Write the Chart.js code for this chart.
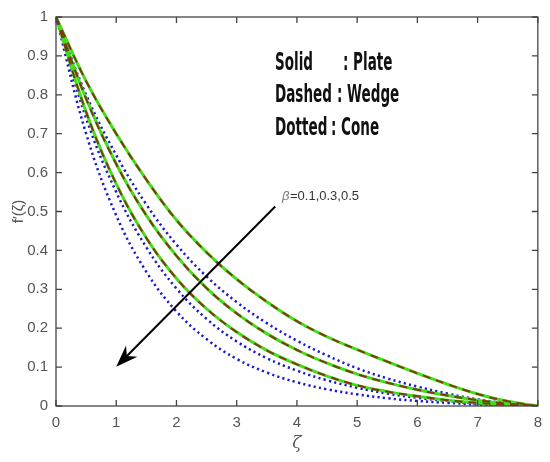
<!DOCTYPE html>
<html>
<head>
<meta charset="utf-8">
<script src="https://cdn.jsdelivr.net/npm/chart.js@4.4.0/dist/chart.umd.min.js"></script>
<style>
  html, body { margin: 0; padding: 0; background: #fff; }
  #wrap { width: 550px; height: 462px; }
</style>
</head>
<body>
<div id="wrap"><canvas id="c"></canvas></div>
<script>
// zeta values along the axis
const zeta = [0, 0.5, 1, 1.5, 2, 2.5, 3, 3.5, 4, 4.5, 5, 5.5, 6, 6.5, 7, 7.5, 8];

// f'(zeta), one array per beta
const plate01 = [1, 0.835, 0.70, 0.582, 0.478, 0.395, 0.326, 0.268, 0.218, 0.178, 0.145, 0.114, 0.084, 0.056, 0.031, 0.012, 0];
const plate03 = [1, 0.79, 0.622, 0.49, 0.386, 0.303, 0.238, 0.186, 0.144, 0.11, 0.082, 0.06, 0.042, 0.027, 0.015, 0.006, 0];
const plate05 = [1, 0.756, 0.571, 0.432, 0.328, 0.25, 0.19, 0.143, 0.107, 0.077, 0.053, 0.037, 0.025, 0.015, 0.008, 0.003, 0];
// wedge curves sit on top of the plate ones
const wedge01 = plate01.slice();
const wedge03 = plate03.slice();
const wedge05 = plate05.slice();
const cone01 = [1, 0.80, 0.645, 0.518, 0.415, 0.333, 0.267, 0.213, 0.168, 0.13, 0.097, 0.071, 0.05, 0.032, 0.017, 0.007, 0];
const cone03 = [1, 0.74, 0.55, 0.408, 0.302, 0.224, 0.166, 0.123, 0.091, 0.066, 0.047, 0.032, 0.021, 0.013, 0.006, 0.002, 0];
const cone05 = [1, 0.70, 0.49, 0.345, 0.243, 0.172, 0.121, 0.086, 0.061, 0.043, 0.03, 0.02, 0.013, 0.008, 0.004, 0.001, 0];

const xTicks = [0, 1, 2, 3, 4, 5, 6, 7, 8];
const yTicks = [0, 0.1, 0.2, 0.3, 0.4, 0.5, 0.6, 0.7, 0.8, 0.9, 1];

const pts = arr => arr.map((v, i) => ({ x: zeta[i], y: v }));

const solid = arr => ({
  data: pts(arr), borderColor: '#44dd18', borderWidth: 3, order: 2
});
const dashed = arr => ({
  data: pts(arr), borderColor: '#7a3a12', borderWidth: 2, borderDash: [8, 6], order: 1
});
const dotted = arr => ({
  data: pts(arr), borderColor: '#1a1acc', borderWidth: 2.5, borderDash: [2.2, 3.2], order: 3
});

// box with inward ticks on all four sides
const frame = {
  id: 'frame',
  afterDatasetsDraw(chart) {
    const { ctx, chartArea: a, scales: { x, y } } = chart;
    ctx.save();
    ctx.strokeStyle = '#444';
    ctx.lineWidth = 1.3;
    ctx.strokeRect(a.left, a.top, a.right - a.left, a.bottom - a.top);
    ctx.beginPath();
    xTicks.forEach(v => {
      const px = x.getPixelForValue(v);
      ctx.moveTo(px, a.bottom); ctx.lineTo(px, a.bottom - 6);
      ctx.moveTo(px, a.top); ctx.lineTo(px, a.top + 6);
    });
    yTicks.forEach(v => {
      const py = y.getPixelForValue(v);
      ctx.moveTo(a.left, py); ctx.lineTo(a.left + 6, py);
      ctx.moveTo(a.right, py); ctx.lineTo(a.right - 6, py);
    });
    ctx.stroke();
    ctx.restore();
  }
};

// legend text, beta label and arrow
const notes = {
  id: 'notes',
  afterDraw(chart) {
    const { ctx, scales: { x, y } } = chart;
    ctx.save();
    ctx.fillStyle = '#111';
    ctx.font = 'bold 24px "DejaVu Sans Condensed", "DejaVu Sans", sans-serif';
    ctx.textBaseline = 'alphabetic';
    const sx = 38 / ctx.measureText('Solid').width;
    const put = (t, px, py) => {
      ctx.save();
      ctx.translate(px, py);
      ctx.scale(sx, 1);
      ctx.fillText(t, 0, 0);
      ctx.restore();
    };
    put('Solid', 275, 70);   put(': Plate', 343, 70);
    put('Dashed', 275, 102); put(': Wedge', 337, 102);
    put('Dotted', 275, 135); put(': Cone', 331, 135);

    ctx.font = 'italic 13px "Liberation Sans", Arial, sans-serif';
    ctx.fillStyle = '#777';
    ctx.fillText('β', 282, 200);
    ctx.font = '13px "Liberation Sans", Arial, sans-serif';
    ctx.fillStyle = '#333';
    ctx.fillText('=0.1,0.3,0.5', 290, 200);

    // arrow in data coordinates
    const x0 = x.getPixelForValue(3.64), y0 = y.getPixelForValue(0.513);
    const x1 = x.getPixelForValue(1.0), y1 = y.getPixelForValue(0.101);
    const len = Math.hypot(x1 - x0, y1 - y0);
    const ux = (x1 - x0) / len, uy = (y1 - y0) / len;
    const nx = -uy, ny = ux;
    ctx.strokeStyle = '#000';
    ctx.lineWidth = 2;
    ctx.beginPath();
    ctx.moveTo(x0, y0);
    ctx.lineTo(x1 - ux * 12, y1 - uy * 12);
    ctx.stroke();
    ctx.fillStyle = '#000';
    ctx.beginPath();
    ctx.moveTo(x1, y1);
    ctx.lineTo(x1 - ux * 22 + nx * 8, y1 - uy * 22 + ny * 8);
    ctx.lineTo(x1 - ux * 15, y1 - uy * 15);
    ctx.lineTo(x1 - ux * 22 - nx * 8, y1 - uy * 22 - ny * 8);
    ctx.closePath();
    ctx.fill();
    ctx.restore();
  }
};

new Chart(document.getElementById('c').getContext('2d'), {
  type: 'line',
  data: {
    datasets: [
      dashed(wedge01), dashed(wedge03), dashed(wedge05),
      solid(plate01), solid(plate03), solid(plate05),
      dotted(cone01), dotted(cone03), dotted(cone05)
    ]
  },
  options: {
    responsive: true,
    maintainAspectRatio: false,
    animation: false,
    layout: { padding: { left: 0, right: 8, top: 10, bottom: 0 } },
    elements: {
      point: { radius: 0 },
      line: { tension: 0.4, fill: false }
    },
    plugins: {
      legend: { display: false },
      tooltip: { enabled: false }
    },
    scales: {
      x: {
        type: 'linear',
        min: 0, max: 8,
        afterFit: s => { s.height = 56; },
        afterBuildTicks: s => { s.ticks = xTicks.map(v => ({ value: v })); },
        grid: { display: false, drawTicks: false },
        border: { display: false },
        ticks: {
          color: '#555',
          padding: 8,
          callback: v => String(v),
          font: { family: '"Liberation Sans", Arial, sans-serif', size: 15 }
        },
        title: {
          display: true,
          text: 'ζ',
          color: '#555',
          padding: { top: 4, bottom: 8 },
          font: { family: '"DejaVu Serif", serif', size: 17, style: 'italic' }
        }
      },
      y: {
        type: 'linear',
        min: 0, max: 1,
        afterFit: s => { s.width = 56; },
        afterBuildTicks: s => { s.ticks = yTicks.map(v => ({ value: v })); },
        grid: { display: false, drawTicks: false },
        border: { display: false },
        ticks: {
          color: '#555',
          padding: 8,
          callback: v => String(v),
          font: { family: '"Liberation Sans", Arial, sans-serif', size: 15 }
        },
        title: {
          display: true,
          text: "f′(ζ)",
          color: '#555',
          padding: { top: 10, bottom: 0 },
          font: { family: '"Liberation Sans", Arial, sans-serif', size: 15 }
        }
      }
    }
  },
  plugins: [frame, notes]
});
</script>
</body>
</html>
